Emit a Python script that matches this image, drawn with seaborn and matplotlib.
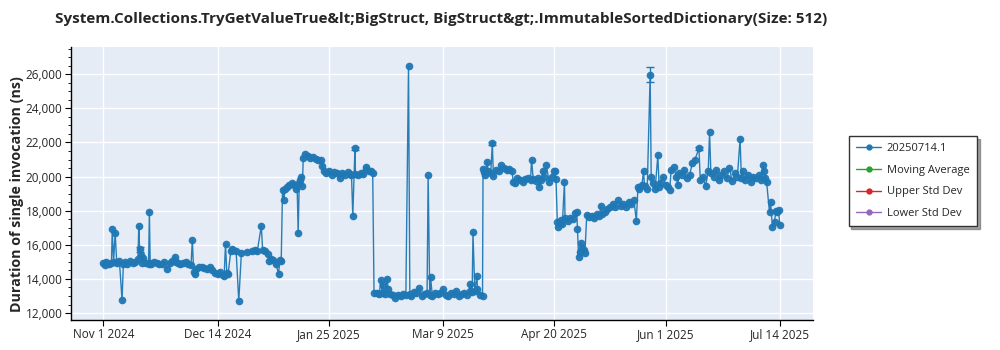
import numpy as np
import pandas as pd
import matplotlib
matplotlib.use("Agg")
import matplotlib.pyplot as plt
import matplotlib.dates as mdates
from matplotlib.lines import Line2D
from matplotlib.ticker import FuncFormatter, MultipleLocator
import seaborn as sns

START = pd.Timestamp("2024-11-01")

# days after the first run, and the measured duration (ns) of each run
run_day = [
    0, 0.5, 1, 2, 3, 3.3, 3.8, 4.4, 5, 6, 7, 7.5, 8, 9, 10, 11, 12, 13, 13.3, 13.6,
    14, 14.5, 15, 16, 17, 17.3, 17.6, 18, 19, 20, 21, 22, 23, 24, 25, 26, 27, 27.5, 28, 29,
    30, 31, 32, 33, 33.5, 34, 34.5, 35, 36, 37, 38, 39, 40, 41, 42, 43, 44, 45, 45.5, 46,
    46.5, 47, 48, 48.5, 49, 50, 51, 52, 54, 56, 57, 58, 59.5, 60, 61, 62, 62.5, 63, 64, 65,
    66, 66.5, 67, 67.5, 68, 68.5, 69, 70, 71, 72, 72.5, 73, 73.4, 73.8, 74, 74.5, 75, 75.3, 76, 77,
    78, 79, 80, 81, 82, 82.5, 83, 84, 85, 86, 87, 88, 89, 90, 91, 92, 93, 93.5, 94, 94.8,
    95, 96, 97, 98, 98.8, 99, 100, 101, 101.5, 102, 103, 104, 104.5, 105, 105.5, 106, 107, 107.3, 108, 109,
    110, 111, 112, 113, 114, 115, 115.5, 116, 117, 118, 119, 120, 121, 122, 122.4, 123, 123.3, 124, 125, 126,
    127, 128, 129, 130, 131, 132, 133, 134, 135, 136, 137, 138, 138.3, 139, 139.3, 140, 140.8, 141, 142, 142.9,
    143.1, 143.5, 144, 144.7, 145, 146, 146.6, 147, 148, 149, 150, 151, 152, 153, 154, 154.5, 155, 156, 157, 158,
    159, 160, 161, 161.4, 162, 163, 164, 164.3, 165, 165.8, 166, 167, 168, 169, 170, 170.2, 170.6, 171.1, 171.5, 172,
    172.5, 173, 173.8, 174, 175, 176, 177, 177.8, 178.4, 178.7, 179.1, 179.5, 180, 180.5, 181, 181.5, 182.2, 183, 184, 185,
    186, 187, 187.5, 188, 189, 190, 191, 192, 193, 194, 195, 196, 197, 198, 199, 200, 200.9, 201.5, 202, 203,
    203.6, 204, 205, 206.1, 206.5, 207, 208, 209, 209.5, 210, 211, 212, 213, 213.5, 214, 215, 216, 216.5, 217, 218,
    219, 220, 221, 222, 223, 224.5, 225, 226, 227, 228, 228.5, 229, 230, 231, 232, 233, 234, 235, 236, 237,
    238, 239, 240, 240.5, 241, 242, 243, 244, 245, 246, 247, 248, 248.6, 249, 249.5, 250, 251.1, 251.5, 252.2, 253,
    253.5, 254, 254.5, 255,
]
duration_ns = [
    14950, 14800, 15000, 14900, 14950, 16900, 15000, 16700, 14950, 15050, 12750, 14900, 15000, 14900, 15050, 14950, 15000, 15150, 17100, 15750,
    15400, 14950, 15200, 14950, 14900, 17950, 14950, 14900, 15000, 14950, 14900, 14900, 15000, 14600, 14950, 15050, 15300, 15000, 14950, 14900,
    14950, 15000, 14850, 14800, 16300, 14400, 14300, 14600, 14700, 14700, 14650, 14600, 14700, 14500, 14350, 14300, 14400, 14250, 14200, 16050,
    14350, 14300, 15650, 15750, 15700, 15650, 12700, 15550, 15600, 15650, 15700, 15650, 17100, 15700, 15650, 15450, 15050, 15150, 15100, 14900,
    14300, 15100, 15050, 19200, 18650, 19300, 19400, 19500, 19600, 19500, 19300, 19500, 16700, 19600, 19800, 20000, 19450, 21100, 21300, 21200,
    21100, 21150, 21050, 21000, 20950, 20600, 20300, 20200, 20350, 20100, 20250, 20200, 19900, 20200, 20100, 20250, 20150, 20100, 17700, 21650,
    20150, 20100, 20200, 20150, 20550, 20450, 20350, 20300, 20200, 13150, 13150, 13100, 13950, 13200, 13650, 13100, 14000, 13400, 13100, 13050,
    12900, 13050, 13000, 13100, 13050, 26500, 13100, 13000, 13250, 13200, 13450, 13000, 13100, 13200, 20100, 13050, 14100, 13000, 13200, 13100,
    13150, 13400, 13050, 13000, 13200, 13100, 13300, 13000, 13100, 13200, 13050, 13300, 13700, 13250, 16750, 13300, 14150, 13400, 13050, 13000,
    20450, 20250, 20100, 20850, 20300, 20200, 21950, 20050, 20400, 20350, 20700, 20500, 20400, 20450, 20350, 19700, 19600, 19900, 19800, 19700,
    19850, 19900, 19800, 21000, 19850, 19750, 19900, 19400, 19800, 20350, 20000, 20650, 19700, 20000, 20300, 20350, 19850, 17350, 17050, 17300,
    17450, 17200, 19700, 17550, 17400, 17600, 17500, 17850, 17950, 16950, 15300, 15600, 16100, 15800, 15700, 15500, 17750, 17650, 17700, 17600,
    17800, 17700, 18300, 17800, 17900, 18100, 18200, 18400, 18200, 18600, 18300, 18400, 18200, 18500, 18400, 18600, 17400, 19400, 19300, 19500,
    20300, 19450, 19300, 25950, 20000, 19600, 19300, 21250, 19400, 19600, 20000, 19500, 19400, 19200, 20400, 20550, 20000, 19500, 20200, 20100,
    20400, 19900, 20100, 20800, 21000, 21650, 19800, 20000, 19450, 20300, 22600, 20200, 20000, 20400, 19800, 20100, 20300, 19900, 20500, 19750,
    20200, 20000, 22200, 19900, 20300, 19800, 20100, 19700, 20000, 19900, 20100, 19800, 20650, 20350, 19900, 19700, 17900, 18500, 17050, 17350,
    18000, 17900, 18050, 17150,
]

# runs reported with a confidence interval
ci_day = [13.6, 94.8, 146.6, 206.1, 224.5]
ci_low = [15600, 21550, 21850, 25550, 21550]
ci_high = [15900, 21750, 22050, 26400, 21750]

series_names = ["20250714.1", "Moving Average", "Upper Std Dev", "Lower Std Dev"]
series_colors = ["#1f77b4", "#2ca02c", "#d62728", "#9467bd"]

x_tick_dates = ["2024-11-01", "2024-12-14", "2025-01-25", "2025-03-09",
                "2025-04-20", "2025-06-01", "2025-07-14"]
y_ticks = [12000, 14000, 16000, 18000, 20000, 22000, 24000, 26000]

df = pd.DataFrame({
    "date": START + pd.to_timedelta(run_day, unit="D"),
    "duration": duration_ns,
})

sns.set_style("ticks")
plt.rcParams["font.family"] = ["Open Sans", "DejaVu Sans"]

fig = plt.figure(figsize=(10, 3.5), dpi=100)
ax = fig.add_axes([0.071, 0.086, 0.742, 0.78])
ax.set_facecolor("#e5ecf6")

sns.lineplot(data=df, x="date", y="duration", ax=ax, color=series_colors[0],
             linewidth=1.0, marker="o", markersize=5.5, markeredgewidth=0,
             estimator=None, sort=False, alpha=0.95)

ci_dates = START + pd.to_timedelta(ci_day, unit="D")
ci_mid = [(lo + hi) / 2 for lo, hi in zip(ci_low, ci_high)]
ci_err = [[m - lo for m, lo in zip(ci_mid, ci_low)], [hi - m for m, hi in zip(ci_mid, ci_high)]]
ax.errorbar(ci_dates, ci_mid, yerr=ci_err, fmt="none", ecolor=series_colors[0],
            elinewidth=1, capsize=3, capthick=1)

ax.set_xlim(pd.Timestamp("2024-10-19 18:00"), pd.Timestamp("2025-07-26 12:00"))
ax.set_ylim(11600, 27600)

ax.set_xticks(pd.to_datetime(x_tick_dates))
ax.xaxis.set_major_formatter(FuncFormatter(
    lambda v, p: (lambda d: f"{d.strftime('%b')} {d.day} {d.year}")(mdates.num2date(v))))
ax.set_yticks(y_ticks)
ax.yaxis.set_minor_locator(MultipleLocator(500))
ax.yaxis.set_major_formatter(FuncFormatter(lambda v, p: f"{int(v):,}"))

ax.grid(True, which="major", color="white", linewidth=1.0)
ax.set_axisbelow(True)
for side in ("top", "right"):
    ax.spines[side].set_visible(False)
for side in ("left", "bottom"):
    ax.spines[side].set_color("black")
    ax.spines[side].set_linewidth(1.0)
ax.tick_params(axis="both", which="major", labelsize=8.5, length=4, color="black", pad=2)
ax.tick_params(axis="y", which="minor", length=2, color="black")

ax.set_xlabel("")
ax.set_ylabel("Duration of single invocation (ns)", fontsize=10.3, fontweight="bold")
ax.yaxis.set_label_coords(-0.064, 0.46)

fig.text(0.441, 0.945, "System.Collections.TryGetValueTrue&lt;BigStruct, BigStruct&gt;.ImmutableSortedDictionary(Size: 512)",
         ha="center", va="center", fontsize=11, fontweight="bold")

handles = [Line2D([0], [0], color=c, marker="o", markersize=3.5, linewidth=1) for c in series_colors]
leg = fig.legend(handles, series_names, loc="upper left", bbox_to_anchor=(0.843, 0.627),
                 fontsize=8, frameon=True, fancybox=False, shadow=True,
                 handlelength=2.3, borderpad=0.65, labelspacing=0.95, handletextpad=0.5)
leg.get_frame().set_edgecolor("#333333")
leg.get_frame().set_linewidth(1.0)

fig.savefig("out.png", dpi=100)
